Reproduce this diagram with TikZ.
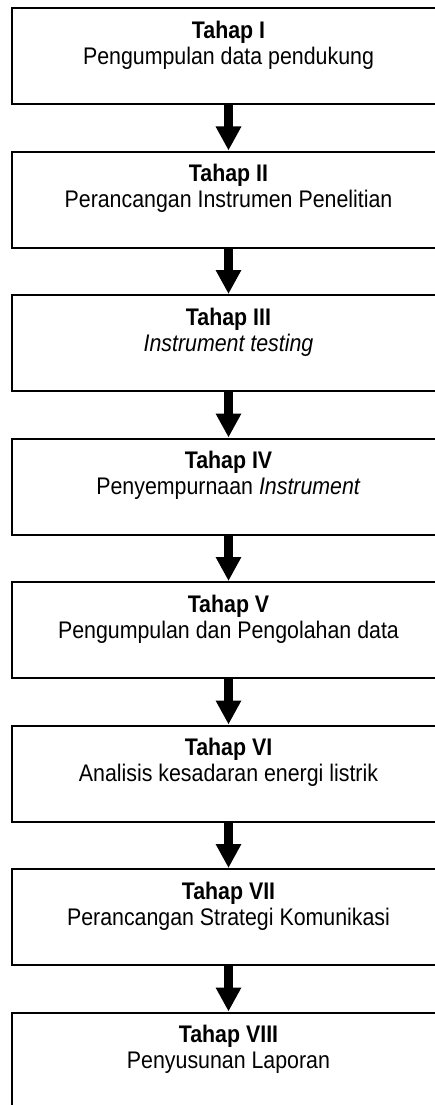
\documentclass[tikz,border=0pt]{standalone}
\usepackage{fontspec}
\setmainfont{Liberation Sans}[FakeStretch=0.89]
\usetikzlibrary{arrows.meta}
\newcommand{\stagetext}[2]{\parbox[c][96pt][t]{433pt}{\centering\fontsize{24pt}{26pt}\selectfont\vspace*{13pt}\textbf{#1}\\#2\par\vfill}}
\tikzset{
  stagebox/.style={draw, line width=2pt, inner sep=0pt, minimum width=433pt, minimum height=96pt},
  flowarrow/.style={line width=9pt, -{Triangle[width=24pt,length=24pt]}}
}
\begin{document}
\begin{tikzpicture}[x=1pt,y=1pt]
\useasboundingbox (0,0) rectangle (434,-1105);
\node[stagebox] (b1) at (228.5,-56) {\stagetext{Tahap I}{Pengumpulan data pendukung}};
\node[stagebox] (b2) at (228.5,-199.5) {\stagetext{Tahap II}{Perancangan Instrumen Penelitian}};
\node[stagebox] (b3) at (228.5,-343) {\stagetext{Tahap III}{\textit{Instrument testing}}};
\node[stagebox] (b4) at (228.5,-486.5) {\stagetext{Tahap IV}{Penyempurnaan \textit{Instrument}}};
\node[stagebox] (b5) at (228.5,-630) {\stagetext{Tahap V}{Pengumpulan dan Pengolahan data}};
\node[stagebox] (b6) at (228.5,-773.5) {\stagetext{Tahap VI}{Analisis kesadaran energi listrik}};
\node[stagebox] (b7) at (228.5,-917) {\stagetext{Tahap VII}{Perancangan Strategi Komunikasi}};
\node[stagebox] (b8) at (228.5,-1060.5) {\stagetext{Tahap VIII}{Penyusunan Laporan}};
\draw[flowarrow] (b1.south) -- (b2.north);
\draw[flowarrow] (b2.south) -- (b3.north);
\draw[flowarrow] (b3.south) -- (b4.north);
\draw[flowarrow] (b4.south) -- (b5.north);
\draw[flowarrow] (b5.south) -- (b6.north);
\draw[flowarrow] (b6.south) -- (b7.north);
\draw[flowarrow] (b7.south) -- (b8.north);
\end{tikzpicture}
\end{document}
